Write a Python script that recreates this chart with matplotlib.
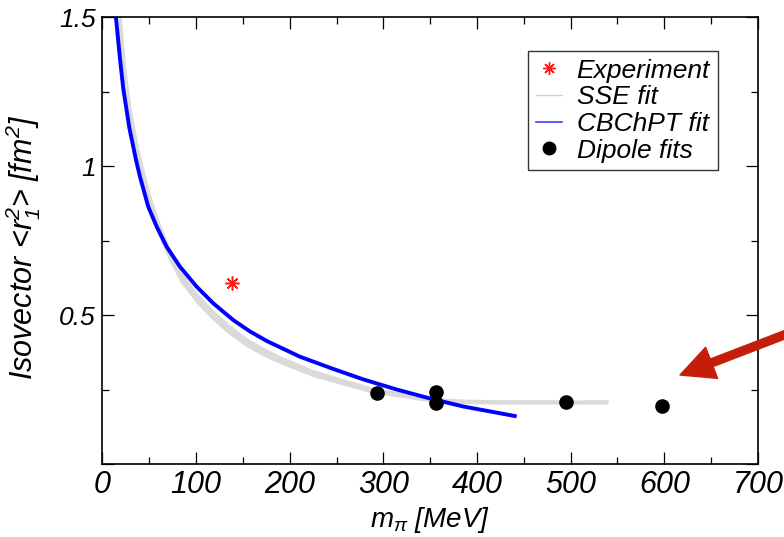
import matplotlib
matplotlib.use('Agg')
import matplotlib.pyplot as plt
from matplotlib.lines import Line2D
from matplotlib.ticker import MultipleLocator

# Data
# Experiment
exp_m = [138]
exp_r = [0.609]

# Dipole fits
dip_m = [293, 356, 356, 495, 597]
dip_r = [0.238, 0.244, 0.207, 0.208, 0.196]

# CBChPT fit
cbchpt_m = [14, 18.8, 22.3, 28.7, 35.9, 40.1, 49, 58, 68.6, 82.8, 100.6,
            118.4, 139.7, 157, 175.3, 210.9, 246.4, 278.4, 314.1, 349.6,
            385.2, 440.3]
cbchpt_r = [1.515, 1.36, 1.26, 1.13, 1.021, 0.965, 0.864, 0.797, 0.730,
            0.663, 0.596, 0.540, 0.484, 0.447, 0.414, 0.361, 0.320, 0.285,
            0.251, 0.221, 0.194, 0.162]

# SSE fit band (lower / upper edge)
sse_m = [17, 21.5, 25, 31.4, 38.6, 43, 52, 61, 72, 83, 101, 118, 136, 154,
         172, 190, 225, 261, 289, 318, 350, 385, 420, 457, 500, 540]
sse_lo = [1.409, 1.266, 1.194, 1.080, 0.978, 0.925, 0.831, 0.757, 0.678,
          0.611, 0.538, 0.483, 0.434, 0.394, 0.363, 0.337, 0.294, 0.262,
          0.238, 0.225, 0.209, 0.204, 0.202, 0.202, 0.202, 0.202]
sse_hi = [1.601, 1.454, 1.326, 1.180, 1.064, 1.005, 0.897, 0.813, 0.726,
          0.653, 0.576, 0.519, 0.468, 0.425, 0.392, 0.364, 0.318, 0.284,
          0.258, 0.243, 0.225, 0.219, 0.217, 0.217, 0.216, 0.217]

plt.rcParams['font.family'] = ['Liberation Sans', 'DejaVu Sans']
plt.rcParams['font.style'] = 'italic'
plt.rcParams['mathtext.fontset'] = 'custom'
plt.rcParams['mathtext.rm'] = 'Liberation Sans:italic'
plt.rcParams['mathtext.it'] = 'Liberation Sans:italic'
plt.rcParams['mathtext.default'] = 'it'

fig = plt.figure(figsize=(7.84, 5.37), dpi=100, facecolor='white')
ax = fig.add_axes([0.1306, 0.1354, 0.8362, 0.8326])

# SSE band, CBChPT curve, points
ax.fill_between(sse_m, sse_lo, sse_hi, color='#dadada', lw=0, zorder=1)
ax.plot(cbchpt_m, cbchpt_r, color='#0000ff', lw=2.8, zorder=2)
ax.plot(dip_m, dip_r, 'o', color='black', ms=9.5, zorder=4)
ax.plot(exp_m, exp_r, marker=(8, 2, 0), ls='none', color='#ff1a1a',
        ms=10, mew=1.1, zorder=5)

ax.set_xlim(0, 700)
ax.set_ylim(0, 1.5)

ax.set_xticks([0, 100, 200, 300, 400, 500, 600, 700])
ax.xaxis.set_minor_locator(MultipleLocator(50))
ax.set_yticks([0, 0.5, 1.0, 1.5])
ax.set_yticklabels(['', '0.5', '1', '1.5'])
ax.yaxis.set_minor_locator(MultipleLocator(0.25))

ax.tick_params(which='both', direction='in', top=True, right=True,
               width=0.9, color='black')
ax.tick_params(which='major', length=8.5)
ax.tick_params(which='minor', length=4.8)
ax.tick_params(axis='x', labelsize=22, pad=4)
ax.tick_params(axis='y', labelsize=19, pad=5)
for s in ax.spines.values():
    s.set_linewidth(1.2)

ax.set_xlabel(r'm$_\pi$ [MeV]', fontsize=20)
ax.xaxis.set_label_coords(0.5, -0.09)
ax.set_ylabel(r'Isovector <r$_1^2$> [fm$^2$]', fontsize=22)
ax.yaxis.set_label_coords(-0.09, 0.485)

# Legend
handles = [
    Line2D([], [], marker=(8, 2, 0), ls='none', color='#ff1a1a', ms=9, mew=1.0),
    Line2D([], [], color='#d4d4d4', lw=1.0),
    Line2D([], [], color='#4040ff', lw=1.2),
    Line2D([], [], marker='o', ls='none', color='black', ms=9),
]
labels = ['Experiment', 'SSE fit', 'CBChPT fit', 'Dipole fits']
leg = ax.legend(handles, labels, loc='upper left', bbox_to_anchor=(0.649, 0.925),
                fontsize=19, frameon=True, fancybox=False, edgecolor='#333333',
                framealpha=1, borderaxespad=0, borderpad=0.3, labelspacing=0.1,
                handlelength=1.0, handletextpad=0.55)
leg.get_frame().set_linewidth(1.0)

# Red arrow pointing at the highest-mass dipole fit
ax.annotate('', xy=(680, 162), xycoords='figure pixels',
            xytext=(810, 212), textcoords='figure pixels',
            arrowprops=dict(arrowstyle='simple,head_length=1.22,head_width=1.2,tail_width=0.29',
                            mutation_scale=20, color='#c41e0a', shrinkA=0, shrinkB=0))

plt.savefig('out.png', dpi=100, facecolor='white')
